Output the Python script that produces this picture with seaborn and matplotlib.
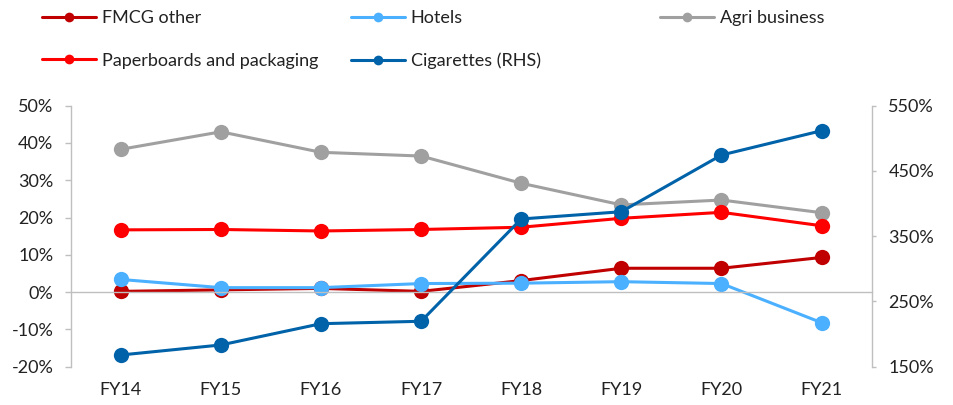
import matplotlib
matplotlib.use('Agg')
import matplotlib.pyplot as plt
import seaborn as sns
import pandas as pd
from matplotlib.lines import Line2D
from matplotlib.ticker import FuncFormatter, FixedLocator, MultipleLocator

# ---- data ----
years = ['FY14', 'FY15', 'FY16', 'FY17', 'FY18', 'FY19', 'FY20', 'FY21']
fmcg_other = [0.2, 0.6, 1.0, 0.2, 3.1, 6.4, 6.4, 9.3]
hotels = [3.4, 1.2, 1.2, 2.3, 2.4, 2.8, 2.3, -8.2]
agri_business = [38.3, 43.0, 37.5, 36.5, 29.2, 23.4, 24.7, 21.3]
paperboards = [16.7, 16.8, 16.4, 16.8, 17.4, 19.8, 21.4, 17.8]
cigarettes = [167.9, 183.3, 215.9, 219.6, 376.4, 387.5, 474.4, 511.7]
right_ticks = [150, 250, 350, 450, 550]

left_names = ['FMCG other', 'Hotels', 'Agri business', 'Paperboards and packaging']
left_values = [fmcg_other, hotels, agri_business, paperboards]
right_name = 'Cigarettes (RHS)'

colors = {
    'FMCG other': '#C00000',
    'Hotels': '#4AB0FF',
    'Agri business': '#A0A0A0',
    'Paperboards and packaging': '#FF0000',
    'Cigarettes (RHS)': '#0062A8',
}

xpos = list(range(len(years)))
rows = []
for name, vals in zip(left_names, left_values):
    for xi, v in zip(xpos, vals):
        rows.append({'x': xi, 'value': v, 'series': name})
df_left = pd.DataFrame(rows)
df_right = pd.DataFrame({'x': xpos, 'value': cigarettes, 'series': right_name})

# ---- style ----
sns.set_style('white')
plt.rcParams['font.family'] = ['Lato', 'DejaVu Sans']
text_color = '#222222'
spine_color = '#BFBFBF'
fs = 13

fig = plt.figure(figsize=(9.54, 4.05), dpi=100)
ax = fig.add_axes([0.0741, 0.0946, 0.8396, 0.6444])
ax2 = ax.twinx()

lw = 2.2
ms = 11
sns.lineplot(data=df_left, x='x', y='value', hue='series', hue_order=left_names,
             palette=colors, marker='o', markersize=ms, markeredgewidth=0,
             linewidth=lw, legend=False, ax=ax, errorbar=None)
sns.lineplot(data=df_right, x='x', y='value', color=colors[right_name],
             marker='o', markersize=ms, markeredgewidth=0, linewidth=lw,
             legend=False, ax=ax2, errorbar=None)

# ---- axes ----
ax.set_xlim(-0.5, len(years) - 0.5)
ax.set_ylim(-20, 50)
ax2.set_ylim(right_ticks[0], right_ticks[-1])
ax.yaxis.set_major_locator(MultipleLocator(10))
ax2.yaxis.set_major_locator(FixedLocator(right_ticks))
pct = FuncFormatter(lambda v, p: f'{v:.0f}%')
ax.yaxis.set_major_formatter(pct)
ax2.yaxis.set_major_formatter(pct)
for a in (ax, ax2):
    a.set_xlabel('')
    a.set_ylabel('')
    a.grid(False)

for s in ('top', 'right'):
    ax.spines[s].set_visible(False)
ax.spines['left'].set_color(spine_color)
ax.spines['left'].set_linewidth(1.0)
ax.spines['bottom'].set_position(('data', 0))
ax.spines['bottom'].set_color(spine_color)
ax.spines['bottom'].set_linewidth(1.0)
for s in ('top', 'left', 'bottom'):
    ax2.spines[s].set_visible(False)
ax2.spines['right'].set_color(spine_color)
ax2.spines['right'].set_linewidth(1.0)

ax.set_xticks(xpos)
ax.set_xticklabels(years)
ax.xaxis.set_minor_locator(FixedLocator([i + 0.5 for i in xpos[:-1]]))
ax.tick_params(axis='x', which='major', length=0, pad=65, labelsize=fs, labelcolor=text_color)
ax.tick_params(axis='x', which='minor', length=5, width=1.0, color=spine_color, direction='out')
ax.tick_params(axis='y', which='major', length=4, width=1.0, color=spine_color, direction='out',
               pad=8.5, labelsize=fs, labelcolor=text_color)
ax2.tick_params(axis='y', which='major', length=3, width=1.0, color=spine_color, direction='out',
                pad=9, labelsize=fs, labelcolor=text_color)

# ---- legend (three columns placed like the reference) ----
def handle(name):
    return Line2D([0], [0], color=colors[name], lw=2.2, marker='o', markersize=7,
                  markeredgewidth=0)

columns = [
    (['FMCG other', 'Paperboards and packaging'], 0.044),
    (['Hotels', 'Cigarettes (RHS)'], 0.368),
    (['Agri business'], 0.692),
]
for names, x0 in columns:
    fig.legend([handle(n) for n in names], names, loc='upper left',
               bbox_to_anchor=(x0, 0.975), frameon=False, fontsize=fs,
               handlelength=3.0, handletextpad=0.3, labelspacing=1.47,
               borderpad=0, borderaxespad=0, labelcolor=text_color)

fig.savefig('out.png', dpi=100)
